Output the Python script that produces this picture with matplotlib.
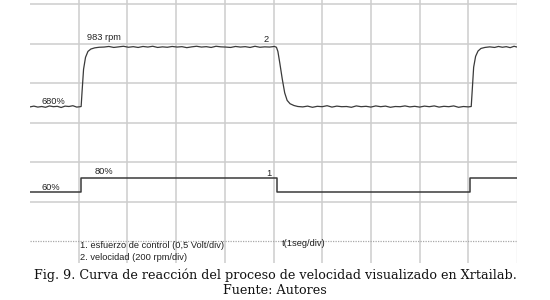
import matplotlib
matplotlib.use("Agg")
import matplotlib.pyplot as plt

# ---- data ----
# speed trace: time in seconds (1 s/div), speed in rpm (200 rpm/div)
speed_t = [0.00, 0.08, 0.16, 0.24, 0.32, 0.40, 0.48, 0.56, 0.64, 0.72, 0.80, 0.88, 0.96, 1.03,
           1.05, 1.07, 1.10, 1.14, 1.19, 1.25, 1.33, 1.42,
           1.52, 1.62, 1.72, 1.82, 1.92, 2.02, 2.12, 2.22, 2.32, 2.42, 2.52, 2.62, 2.72, 2.82,
           2.92, 3.02, 3.12, 3.22, 3.32, 3.42, 3.52, 3.62, 3.72, 3.82, 3.92, 4.02, 4.12, 4.22,
           4.32, 4.42, 4.52, 4.62, 4.72, 4.82, 4.92, 5.02, 5.06,
           5.09, 5.13, 5.18, 5.23, 5.28, 5.34, 5.42, 5.50,
           5.60, 5.70, 5.80, 5.90, 6.00, 6.10, 6.20, 6.30, 6.40, 6.50, 6.60, 6.70, 6.80, 6.90,
           7.00, 7.10, 7.20, 7.30, 7.40, 7.50, 7.60, 7.70, 7.80, 7.90, 8.00, 8.10, 8.20, 8.30,
           8.40, 8.50, 8.60, 8.70, 8.80, 8.90, 9.00, 9.06,
           9.08, 9.11, 9.15, 9.20, 9.26, 9.34, 9.44,
           9.54, 9.62, 9.70, 9.78, 9.86, 9.94, 10.00]
speed_rpm = [679, 683, 678, 681, 677, 684, 680, 682, 676, 683, 681, 685, 678, 680,
             681, 760, 870, 930, 960, 972, 978, 981,
             982, 985, 980, 983, 986, 981, 984, 980, 985, 982, 986, 980, 983, 981,
             985, 982, 984, 979, 983, 986, 982, 984, 980, 986, 983, 982, 980, 985,
             982, 984, 980, 986, 981, 983, 982, 985, 981,
             960, 900, 820, 750, 712, 695, 686, 681,
             679, 683, 677, 682, 680, 685, 678, 683, 680, 681, 677, 684, 680, 682,
             678, 684, 680, 683, 677, 681, 680, 684, 679, 682, 678, 683, 680, 684,
             678, 682, 680, 684, 677, 681, 679, 681,
             760, 880, 935, 962, 975, 980, 983,
             980, 985, 981, 984, 979, 986, 982]

# control effort trace: time in seconds, effort in %
ctrl_t = [0.00, 1.05, 1.05, 5.07, 5.07, 9.03, 9.03, 10.00]
ctrl_pct = [60, 60, 80, 80, 60, 60, 80, 80]

# labels
lbl_speed_high = "983 rpm"
lbl_speed_low = "680%"
lbl_ctrl_high = "80%"
lbl_ctrl_low = "60%"
legend_lines = ["1. esfuerzo de control (0,5 Volt/div)", "2. velocidad (200 rpm/div)"]
time_label = "t(1seg/div)"
caption = ["Fig. 9. Curva de reacción del proceso de velocidad visualizado en Xrtailab.",
           "Fuente: Autores"]

# ---- figure ----
fig = plt.figure(figsize=(5.5, 3.0), dpi=100)
W, H = 550, 300
ax_left, ax_right, ax_top, ax_bot = 30, 517, 0, 263
ax = fig.add_axes([ax_left / W, 1 - ax_bot / H, (ax_right - ax_left) / W, (ax_bot - ax_top) / H])

# rpm axis: 0 rpm at pixel 241, 39.5 px per 200 rpm
px_per_rpm = 39.5 / 200.0
y0_px = 241
ax.set_ylim(-(ax_bot - y0_px) / px_per_rpm, (y0_px - ax_top) / px_per_rpm)
ax.set_xlim(0, 10)

grid_col = "#cdcdcd"
for xv in range(1, 10):
    ax.axvline(xv, color=grid_col, lw=1.1, zorder=0)
for yv in [200, 400, 600, 800, 1000, 1200]:
    ax.axhline(yv, color=grid_col, lw=1.1, zorder=0)
ax.axhline(0, color="#a8a8a8", lw=0.9, ls=(0, (1, 1)), zorder=0)
ax.axvline(10, color="#dddddd", lw=1.0, zorder=0)

line_col = "#3a3a3a"
ax.plot(speed_t, speed_rpm, color=line_col, lw=0.9, zorder=3)

# control effort on a twin scale: 60% at pixel 192, 80% at pixel 178
ax2 = ax.twinx()
px_per_pct = 14 / 20.0
pmax = 80 + (178 - ax_top) / px_per_pct
pmin = pmax - (ax_bot - ax_top) / px_per_pct
ax2.set_ylim(pmin, pmax)
ax2.plot(ctrl_t, ctrl_pct, color=line_col, lw=1.1, zorder=3)

for a in (ax, ax2):
    a.set_xticks([])
    a.set_yticks([])
    for s in a.spines.values():
        s.set_visible(False)

def px_to_data(px, py):
    return ((px - ax_left) / (ax_right - ax_left) * 10.0, (y0_px - py) / px_per_rpm)

sans = ["Liberation Sans", "DejaVu Sans"]
fs = 6.7
def put(px, py, s, **kw):
    x, y = px_to_data(px, py)
    ax.text(x, y, s, fontsize=fs, family=sans, color="#222222", va="center", **kw)

put(87, 37, lbl_speed_high)
put(264, 40, "2")
put(41, 101, lbl_speed_low)
put(95, 172, lbl_ctrl_high)
put(266, 173, "1")
put(41, 187, lbl_ctrl_low)
put(282, 243, time_label)
put(80, 245, legend_lines[0])
put(80, 258, legend_lines[1])

serif = ["DejaVu Serif"]
fig.text(0.5, 1 - 275 / H, caption[0], ha="center", va="center", fontsize=9.2, family=serif, color="#111111")
fig.text(0.5, 1 - 291 / H, caption[1], ha="center", va="center", fontsize=9.2, family=serif, color="#111111")

fig.savefig("out.png", dpi=100)
